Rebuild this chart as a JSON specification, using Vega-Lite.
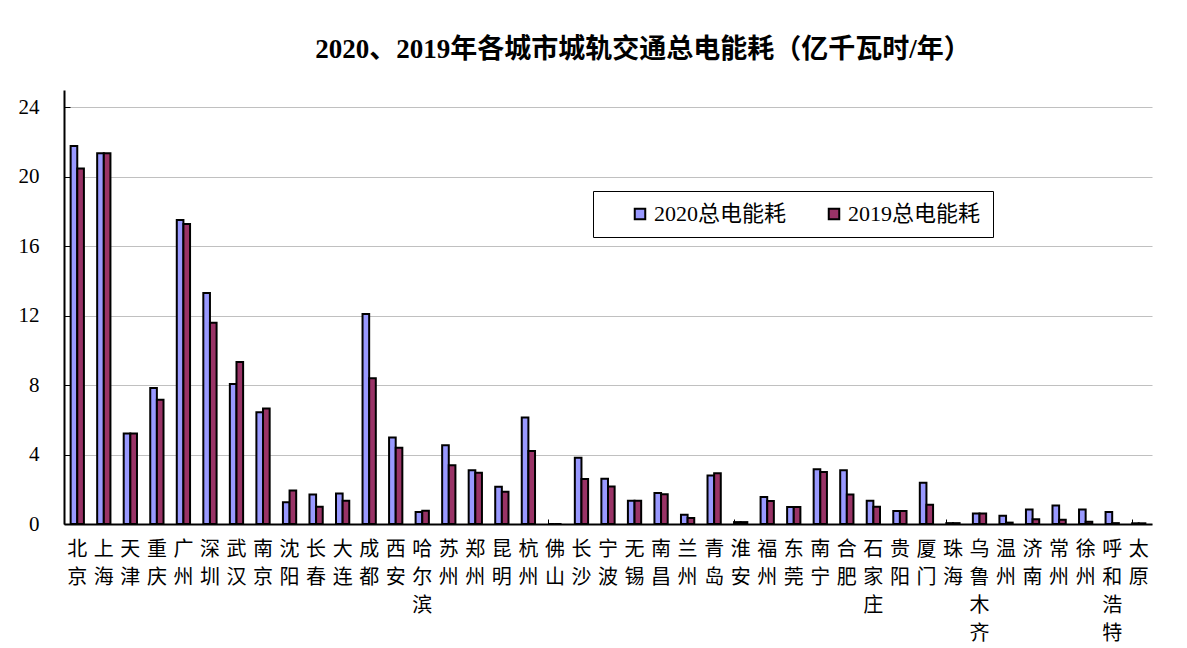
{
  "$schema": "https://vega.github.io/schema/vega-lite/v6.json",
  "width": 1088,
  "height": 434,
  "autosize": "none",
  "padding": {"left": 64, "top": 90, "right": 35, "bottom": 124},
  "background": "white",
  "title": {
    "text": "2020、2019年各城市城轨交通总电能耗（亿千瓦时/年）",
    "font": "Liberation Serif, Noto Sans CJK SC",
    "fontSize": 27,
    "fontWeight": "bold",
    "color": "black",
    "anchor": "middle",
    "dx": 35,
    "offset": 26
  },
  "data": {
    "values": [
      {"city": "北京", "series": "2020总电能耗", "value": 21.78}, {"city": "北京", "series": "2019总电能耗", "value": 20.48},
      {"city": "上海", "series": "2020总电能耗", "value": 21.36}, {"city": "上海", "series": "2019总电能耗", "value": 21.36},
      {"city": "天津", "series": "2020总电能耗", "value": 5.21}, {"city": "天津", "series": "2019总电能耗", "value": 5.21},
      {"city": "重庆", "series": "2020总电能耗", "value": 7.84}, {"city": "重庆", "series": "2019总电能耗", "value": 7.16},
      {"city": "广州", "series": "2020总电能耗", "value": 17.51}, {"city": "广州", "series": "2019总电能耗", "value": 17.28},
      {"city": "深圳", "series": "2020总电能耗", "value": 13.3}, {"city": "深圳", "series": "2019总电能耗", "value": 11.59},
      {"city": "武汉", "series": "2020总电能耗", "value": 8.07}, {"city": "武汉", "series": "2019总电能耗", "value": 9.33},
      {"city": "南京", "series": "2020总电能耗", "value": 6.44}, {"city": "南京", "series": "2019总电能耗", "value": 6.65},
      {"city": "沈阳", "series": "2020总电能耗", "value": 1.26}, {"city": "沈阳", "series": "2019总电能耗", "value": 1.93},
      {"city": "长春", "series": "2020总电能耗", "value": 1.7}, {"city": "长春", "series": "2019总电能耗", "value": 1.0},
      {"city": "大连", "series": "2020总电能耗", "value": 1.76}, {"city": "大连", "series": "2019总电能耗", "value": 1.34},
      {"city": "成都", "series": "2020总电能耗", "value": 12.1}, {"city": "成都", "series": "2019总电能耗", "value": 8.39},
      {"city": "西安", "series": "2020总电能耗", "value": 4.98}, {"city": "西安", "series": "2019总电能耗", "value": 4.39},
      {"city": "哈尔滨", "series": "2020总电能耗", "value": 0.69}, {"city": "哈尔滨", "series": "2019总电能耗", "value": 0.77},
      {"city": "苏州", "series": "2020总电能耗", "value": 4.54}, {"city": "苏州", "series": "2019总电能耗", "value": 3.39},
      {"city": "郑州", "series": "2020总电能耗", "value": 3.1}, {"city": "郑州", "series": "2019总电能耗", "value": 2.95},
      {"city": "昆明", "series": "2020总电能耗", "value": 2.15}, {"city": "昆明", "series": "2019总电能耗", "value": 1.86},
      {"city": "杭州", "series": "2020总电能耗", "value": 6.13}, {"city": "杭州", "series": "2019总电能耗", "value": 4.2},
      {"city": "佛山", "series": "2020总电能耗", "value": 0}, {"city": "佛山", "series": "2019总电能耗", "value": 0},
      {"city": "长沙", "series": "2020总电能耗", "value": 3.81}, {"city": "长沙", "series": "2019总电能耗", "value": 2.59},
      {"city": "宁波", "series": "2020总电能耗", "value": 2.61}, {"city": "宁波", "series": "2019总电能耗", "value": 2.16},
      {"city": "无锡", "series": "2020总电能耗", "value": 1.34}, {"city": "无锡", "series": "2019总电能耗", "value": 1.34},
      {"city": "南昌", "series": "2020总电能耗", "value": 1.78}, {"city": "南昌", "series": "2019总电能耗", "value": 1.72},
      {"city": "兰州", "series": "2020总电能耗", "value": 0.54}, {"city": "兰州", "series": "2019总电能耗", "value": 0.34},
      {"city": "青岛", "series": "2020总电能耗", "value": 2.8}, {"city": "青岛", "series": "2019总电能耗", "value": 2.93},
      {"city": "淮安", "series": "2020总电能耗", "value": 0.11}, {"city": "淮安", "series": "2019总电能耗", "value": 0.11},
      {"city": "福州", "series": "2020总电能耗", "value": 1.55}, {"city": "福州", "series": "2019总电能耗", "value": 1.32},
      {"city": "东莞", "series": "2020总电能耗", "value": 0.98}, {"city": "东莞", "series": "2019总电能耗", "value": 0.98},
      {"city": "南宁", "series": "2020总电能耗", "value": 3.16}, {"city": "南宁", "series": "2019总电能耗", "value": 3.0},
      {"city": "合肥", "series": "2020总电能耗", "value": 3.1}, {"city": "合肥", "series": "2019总电能耗", "value": 1.7},
      {"city": "石家庄", "series": "2020总电能耗", "value": 1.34}, {"city": "石家庄", "series": "2019总电能耗", "value": 1.0},
      {"city": "贵阳", "series": "2020总电能耗", "value": 0.75}, {"city": "贵阳", "series": "2019总电能耗", "value": 0.75},
      {"city": "厦门", "series": "2020总电能耗", "value": 2.38}, {"city": "厦门", "series": "2019总电能耗", "value": 1.11},
      {"city": "珠海", "series": "2020总电能耗", "value": 0.05}, {"city": "珠海", "series": "2019总电能耗", "value": 0.05},
      {"city": "乌鲁木齐", "series": "2020总电能耗", "value": 0.61}, {"city": "乌鲁木齐", "series": "2019总电能耗", "value": 0.61},
      {"city": "温州", "series": "2020总电能耗", "value": 0.48}, {"city": "温州", "series": "2019总电能耗", "value": 0.08},
      {"city": "济南", "series": "2020总电能耗", "value": 0.84}, {"city": "济南", "series": "2019总电能耗", "value": 0.27},
      {"city": "常州", "series": "2020总电能耗", "value": 1.07}, {"city": "常州", "series": "2019总电能耗", "value": 0.25},
      {"city": "徐州", "series": "2020总电能耗", "value": 0.84}, {"city": "徐州", "series": "2019总电能耗", "value": 0.13},
      {"city": "呼和浩特", "series": "2020总电能耗", "value": 0.69}, {"city": "呼和浩特", "series": "2019总电能耗", "value": 0.05},
      {"city": "太原", "series": "2020总电能耗", "value": 0.04}, {"city": "太原", "series": "2019总电能耗", "value": 0.04}
    ]
  },
  "mark": {"type": "bar", "stroke": "black", "strokeWidth": 2},
  "encoding": {
    "x": {
      "field": "city",
      "type": "nominal",
      "sort": null,
      "scale": {"paddingInner": 0.5, "paddingOuter": 0.25},
      "axis": {
        "title": null,
        "labelAngle": 0,
        "labelExpr": "split(datum.label, '')",
        "labelFont": "Noto Sans CJK SC",
        "labelFontSize": 20,
        "labelLineHeight": 28,
        "labelColor": "black",
        "labelPadding": 20,
        "labelBaseline": "top",
        "bandPosition": 0,
        "tickSize": -5,
        "tickColor": "black",
        "tickWidth": 1,
        "domainColor": "black",
        "domainWidth": 2,
        "grid": false
      }
    },
    "xOffset": {"field": "series", "type": "nominal", "sort": ["2020总电能耗", "2019总电能耗"]},
    "y": {
      "field": "value",
      "type": "quantitative",
      "scale": {"domain": [0, 25], "nice": false},
      "axis": {
        "title": null,
        "values": [0, 4, 8, 12, 16, 20, 24],
        "labelFont": "Liberation Serif",
        "labelFontSize": 21,
        "labelColor": "black",
        "labelPadding": 31,
        "tickSize": -6,
        "tickColor": "black",
        "tickWidth": 1,
        "domainColor": "black",
        "domainWidth": 2,
        "grid": true,
        "gridColor": "#c0c0c0",
        "gridWidth": 1.2
      }
    },
    "color": {
      "field": "series",
      "type": "nominal",
      "scale": {"domain": ["2020总电能耗", "2019总电能耗"], "range": ["#9999FF", "#993366"]},
      "legend": {
        "title": null,
        "orient": "none",
        "legendX": 529,
        "legendY": 101,
        "direction": "horizontal",
        "strokeColor": "black",
        "fillColor": "white",
        "padding": 12,
        "symbolType": "square",
        "symbolSize": 110,
        "symbolStrokeColor": "black",
        "symbolStrokeWidth": 2,
        "symbolOffset": 24,
        "labelFont": "Liberation Serif, Noto Sans CJK SC",
        "labelFontSize": 22,
        "labelColor": "black",
        "labelOffset": 3,
        "columnPadding": 12,
        "labelLimit": 300
      }
    }
  },
  "config": {
    "view": {"stroke": null}
  }
}
